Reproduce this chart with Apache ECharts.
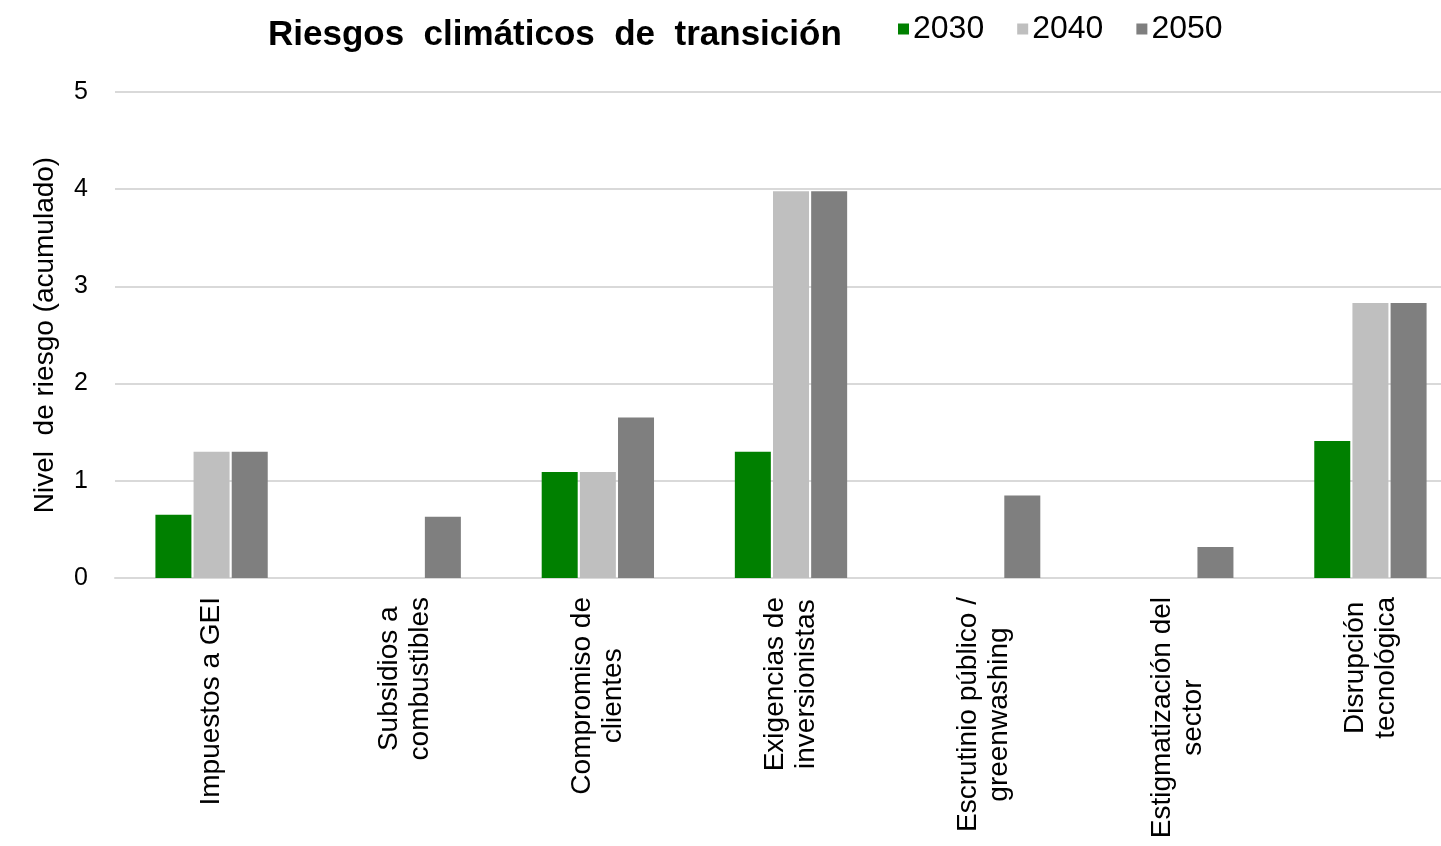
<!DOCTYPE html>
<html>
<head>
<meta charset="utf-8">
<script src="https://cdn.jsdelivr.net/npm/echarts@6/dist/echarts.min.js"></script>
<style>
html,body{margin:0;padding:0;background:#fff;overflow:hidden;}
#chart{width:1470px;height:846px;}
</style>
</head>
<body>
<div id="chart"></div>
<script>
const categories = [
  'Impuestos a GEI',
  'Subsidios a\ncombustibles',
  'Compromiso de\nclientes',
  'Exigencias de\ninversionistas',
  'Escrutinio público /\ngreenwashing',
  'Estigmatización del\nsector',
  'Disrupción\ntecnológica'
];
const seriesNames = ['2030', '2040', '2050'];
const values2030 = [0.65, 0, 1.09, 1.30, 0, 0, 1.41];
const values2040 = [1.30, 0, 1.09, 3.98, 0, 0, 2.83];
const values2050 = [1.30, 0.63, 1.65, 3.98, 0.85, 0.32, 2.83];
const yTicks = [0, 1, 2, 3, 4, 5];

const colors = ['#008000', '#BFBFBF', '#7F7F7F'];
const font = '"Liberation Sans", Arial, sans-serif';

const chart = echarts.init(document.getElementById('chart'));
const dataSets = [values2030, values2040, values2050];

chart.setOption({
  animation: false,
  backgroundColor: '#ffffff',
  title: {
    text: 'Riesgos  climáticos  de  transición',
    left: 263,
    top: 13,
    textStyle: { fontFamily: font, fontSize: 35, fontWeight: 'bold', color: '#000' }
  },
  legend: {
    data: seriesNames,
    left: 893,
    top: 8,
    itemWidth: 11,
    itemHeight: 11,
    itemGap: 33,
    icon: 'rect',
    textStyle: { fontFamily: font, fontSize: 32, color: '#000', padding: [0, 0, 0, -1] }
  },
  grid: { left: 115, top: 92, width: 1352, height: 486, containLabel: false },
  xAxis: {
    type: 'category',
    data: categories,
    axisLine: { show: true, lineStyle: { color: '#D9D9D9', width: 2 } },
    axisTick: { show: false },
    axisLabel: {
      interval: 0,
      rotate: 90,
      margin: 19,
      fontFamily: font,
      fontSize: 28,
      color: '#000',
      lineHeight: 31,
      formatter: v => v.split('\n').map(s => '{c|' + s + '}').join('\n'),
      rich: { c: { align: 'center', fontFamily: font, fontSize: 28, color: '#000', lineHeight: 31 } }
    }
  },
  yAxis: {
    type: 'value',
    min: yTicks[0],
    max: yTicks[yTicks.length - 1],
    interval: 1,
    name: 'Nivel  de riesgo (acumulado)',
    nameLocation: 'middle',
    nameGap: 56,
    nameRotate: 90,
    nameTextStyle: { fontFamily: font, fontSize: 28, color: '#000' },
    axisLine: { show: false },
    axisTick: { show: false },
    axisLabel: { fontFamily: font, fontSize: 25, color: '#000', margin: 27 },
    splitLine: { lineStyle: { color: '#D9D9D9', width: 2 } }
  },
  series: seriesNames.map((name, i) => ({
    name: name,
    type: 'bar',
    data: dataSets[i],
    barWidth: 36,
    barGap: '6%',
    itemStyle: { color: colors[i] }
  }))
});
</script>
</body>
</html>
